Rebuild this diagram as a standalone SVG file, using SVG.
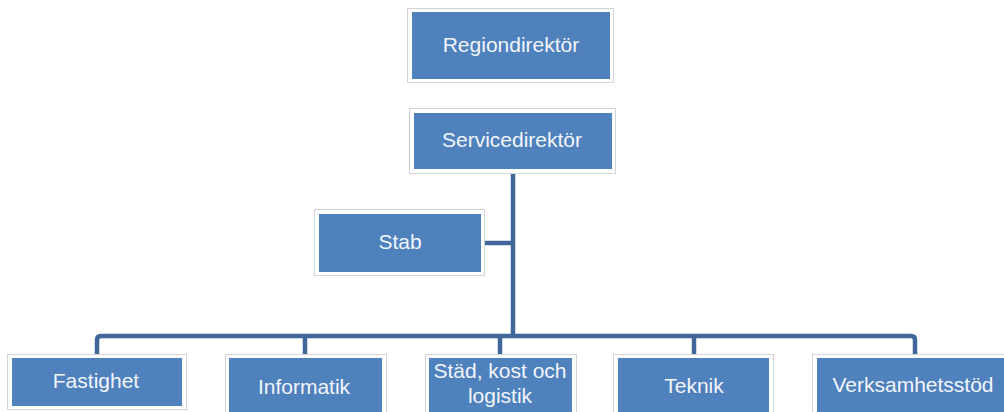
<svg xmlns="http://www.w3.org/2000/svg" width="1004" height="412" viewBox="0 0 1004 412">
<style>
.frame{fill:#ffffff;stroke:#d4d4d4;stroke-width:1}
.box{fill:#4f81bd}
.lbl{font-family:"Liberation Sans",Arial,sans-serif;font-size:21px;fill:#f2f5fa;text-anchor:middle}
.conn{fill:none;stroke:#41679a;stroke-width:4.5;stroke-linejoin:round}
</style>
<rect width="1004" height="412" fill="#ffffff"/>
<g id="connectors">
<path class="conn" d="M513 173 V336"/>
<path class="conn" d="M485 243 H513"/>
<path class="conn" d="M97 354 V340 Q97 336 101 336 H911 Q915 336 915 340 V354"/>
<path class="conn" d="M305 336 V354"/>
<path class="conn" d="M500 336 V354"/>
<path class="conn" d="M694 336 V354"/>
</g>
<g id="regiondirektor">
<rect class="frame" x="407.5" y="8.5" width="206" height="74"/>
<rect class="box" x="412" y="12" width="198" height="67"/>
<text class="lbl" x="511" y="52">Regiondirektör</text>
</g>
<g id="servicedirektor">
<rect class="frame" x="409.5" y="108.5" width="206" height="65"/>
<rect class="box" x="414" y="113" width="198" height="56"/>
<text class="lbl" x="512" y="147">Servicedirektör</text>
</g>
<g id="stab">
<rect class="frame" x="314.5" y="209.5" width="170" height="66"/>
<rect class="box" x="319" y="214" width="162" height="58"/>
<text class="lbl" x="400" y="249">Stab</text>
</g>
<g id="fastighet">
<rect class="frame" x="7.5" y="354.5" width="179" height="55"/>
<rect class="box" x="12" y="358" width="170" height="48"/>
<text class="lbl" x="96" y="388">Fastighet</text>
</g>
<g id="informatik">
<rect class="frame" x="225.5" y="354.5" width="161" height="70"/>
<rect class="box" x="229" y="358" width="153" height="62"/>
<text class="lbl" x="304" y="394">Informatik</text>
</g>
<g id="stad">
<rect class="frame" x="425.5" y="354.5" width="151" height="70"/>
<rect class="box" x="429" y="358" width="143" height="62"/>
<text class="lbl" x="500" y="378">Städ, kost och</text>
<text class="lbl" x="500" y="403">logistik</text>
</g>
<g id="teknik">
<rect class="frame" x="613.5" y="354.5" width="160" height="70"/>
<rect class="box" x="618" y="358" width="151" height="62"/>
<text class="lbl" x="694" y="393">Teknik</text>
</g>
<g id="verksamhetsstod">
<rect class="frame" x="812.5" y="354.5" width="202" height="70"/>
<rect class="box" x="817" y="358" width="193" height="62"/>
<text class="lbl" x="913" y="392">Verksamhetsstöd</text>
</g>
</svg>
